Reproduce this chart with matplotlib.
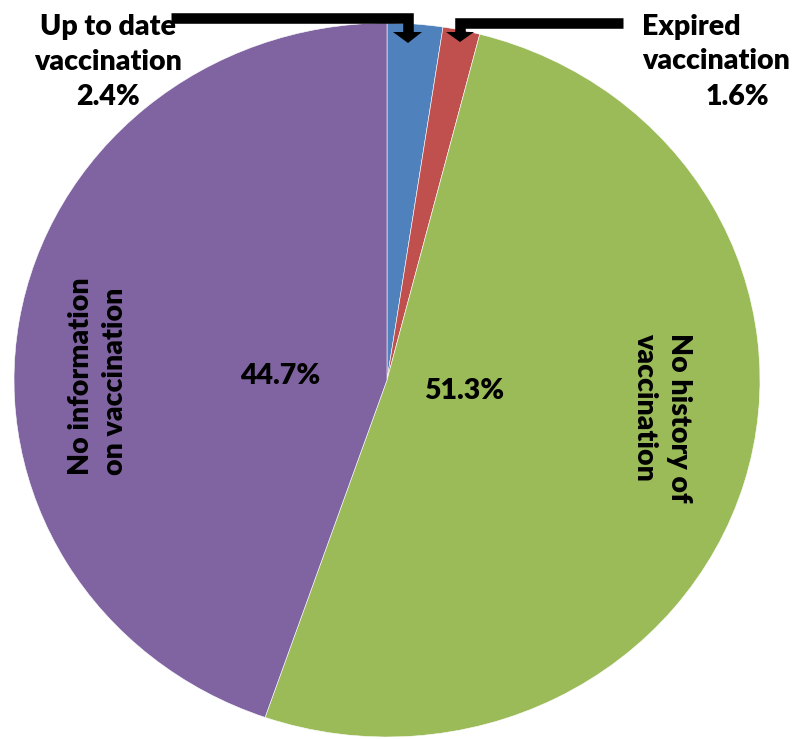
#!/usr/bin/env python3
# -*- coding: utf-8 -*-
"""Vaccination status pie chart."""

import matplotlib
matplotlib.use('Agg')
import matplotlib.pyplot as plt
from matplotlib.patches import Polygon

# ---------- data ----------
categories = ['Up to date vaccination', 'Expired vaccination',
              'No history of vaccination', 'No information on vaccination']
shares = [2.4, 1.6, 51.3, 44.7]
colors = ['#4F81BD', '#C0504D', '#9BBB59', '#8064A2']

W, H = 792, 739
FONT = 'Lato'

def main():
    plt.rcParams['font.family'] = [FONT, 'DejaVu Sans']
    fig = plt.figure(figsize=(W / 100, H / 100), dpi=100)

    # pie axes (slightly stretched ellipse like the original)
    ax = fig.add_axes([14 / W, (H - 737) / H, 746 / W, 714 / H])
    ax.pie(shares, colors=colors, startangle=90, counterclock=False,
           wedgeprops=dict(edgecolor='white', linewidth=0.4))
    ax.set_aspect('auto')
    ax.set_xlim(-1, 1)
    ax.set_ylim(-1, 1)
    ax.axis('off')

    # overlay in pixel coordinates for labels / arrows
    ov = fig.add_axes([0, 0, 1, 1])
    ov.set_xlim(0, W)
    ov.set_ylim(H, 0)
    ov.axis('off')

    tkw = dict(fontsize=20.5, fontweight='heavy', color='black', linespacing=1.42)

    ov.text(108, 62, f'Up to date\nvaccination\n{shares[0]:.1f}%',
            ha='center', va='center', multialignment='center', **tkw)
    ov.text(642, 44, 'Expired\nvaccination', ha='left', va='center',
            multialignment='left', **tkw)
    ov.text(737, 97, f'{shares[1]:.1f}%', ha='center', va='center', **tkw)

    ov.text(280, 376, f'{shares[3]:.1f}%', ha='center', va='center', **tkw)
    ov.text(464, 391, f'{shares[2]:.1f}%', ha='center', va='center', **tkw)

    ov.text(98, 376, 'No information\non vaccination', rotation=90,
            ha='center', va='center', multialignment='left', **tkw)
    ov.text(662, 418, 'No history of\nvaccination', rotation=-90,
            ha='center', va='center', multialignment='left', **tkw)

    # callout arrows
    lkw = dict(color='black', lw=7.6, solid_capstyle='butt',
               solid_joinstyle='miter')
    ov.plot([171, 407.5, 407.5], [17.5, 17.5, 33], **lkw)
    ov.add_patch(Polygon([(393, 32), (422, 32), (408, 43)], closed=True,
                         color='black', lw=0))
    ov.plot([623, 460, 460], [23, 23, 33], **lkw)
    ov.add_patch(Polygon([(446, 32), (474, 32), (460, 42)], closed=True,
                         color='black', lw=0))

    fig.savefig('out.png', dpi=100, facecolor='white')
    plt.close(fig)

if __name__ == '__main__':
    main()
